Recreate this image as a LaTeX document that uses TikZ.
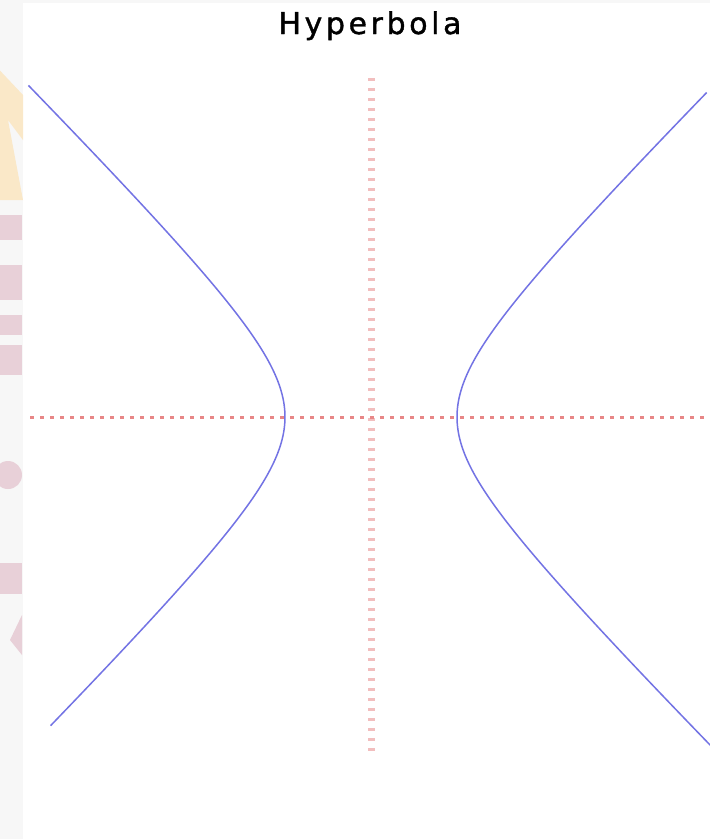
\documentclass[tikz,border=0pt]{standalone}
\usepackage{fontspec}
\setmainfont{DejaVu Sans}
\definecolor{curveblue}{RGB}{115,115,228}
\definecolor{axisred}{RGB}{232,135,135}
\definecolor{axispink}{RGB}{242,190,190}
\definecolor{stripgray}{RGB}{247,247,247}
\definecolor{wmorange}{RGB}{250,232,200}
\definecolor{wmpink}{RGB}{232,208,216}
\begin{document}
\begin{tikzpicture}[x=1pt,y=-1pt,
  curve/.style={draw=curveblue,line width=1.5pt,line join=round},
  haxis/.style={draw=axisred,line width=3pt,dash pattern=on 4pt off 6pt},
  vaxis/.style={draw=axispink,line width=7pt,dash pattern=on 3pt off 7pt},
  titletext/.style={font=\fontsize{30}{32}\selectfont\addfontfeature{LetterSpace=12,FakeBold=1.2},anchor=base,inner sep=0pt}]
\useasboundingbox (0,0) rectangle (710,839);
\fill[white] (0,0) rectangle (710,839);
\fill[stripgray] (0,0) rectangle (23,839);
\fill[stripgray] (0,0) rectangle (710,3);
% faint watermark pieces in the left strip
\begin{scope}
\clip (0,0) rectangle (23,839);
\fill[wmorange] (-10,60) -- (23,95) -- (23,140) -- (8,120) -- (23,200) -- (-10,200) -- cycle;
\fill[wmpink] (0,215) rectangle (22,240);
\fill[wmpink] (0,265) rectangle (22,300);
\fill[wmpink] (0,315) rectangle (22,335);
\fill[wmpink] (0,345) rectangle (22,375);
\fill[wmpink] (8,475) circle (14);
\fill[wmpink] (0,563) rectangle (22,594);
\fill[wmpink] (22,615) -- (22,655) -- (10,640) -- cycle;
\end{scope}
% axes
\coordinate (hl) at (30,417);
\coordinate (hr) at (710,417);
\coordinate (vt) at (371,78);
\coordinate (vb) at (371,755);
\draw[vaxis] (vt) -- (vb);
\draw[haxis] (hl) -- (hr);
% hyperbola branches, center (371,417), a = b = 86
\begin{scope}
\clip (23,0) rectangle (710,839);
\draw[curve] plot[domain=-1.99:2.06,samples=120,variable=\t]
  ({371-86*cosh(\t)},{417-86*sinh(\t)});
\draw[curve] plot[domain=-2.08:2.04,samples=120,variable=\t]
  ({371+86*cosh(\t)},{417-86*sinh(\t)});
\end{scope}
\node[titletext] (title) at (370,34) {Hyperbola};
\end{tikzpicture}
\end{document}
